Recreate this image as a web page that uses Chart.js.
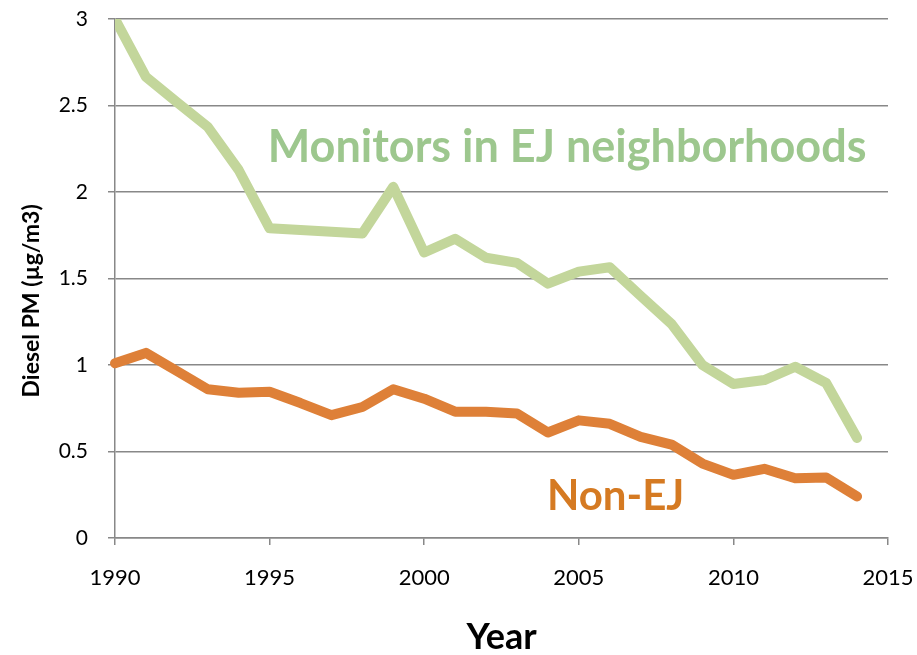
<!DOCTYPE html>
<html>
<head>
<meta charset="utf-8">
<script src="https://cdn.jsdelivr.net/npm/chart.js@4/dist/chart.umd.min.js"></script>
<style>
  html, body { margin: 0; padding: 0; background: #fff; }
  #wrap { width: 917px; height: 655px; }
</style>
</head>
<body>
<div id="wrap"><canvas id="pmChart" width="917" height="655"></canvas></div>
<script>
// Diesel PM trend, EJ vs non-EJ monitors
const years = [1990, 1991, 1992, 1993, 1994, 1995, 1996, 1997, 1998, 1999, 2000, 2001,
  2002, 2003, 2004, 2005, 2006, 2007, 2008, 2009, 2010, 2011, 2012, 2013, 2014];
const ejValues = [3.0, 2.665, 2.52, 2.376, 2.127, 1.79, 1.78, 1.77, 1.76, 2.03, 1.65, 1.73,
  1.62, 1.59, 1.47, 1.54, 1.565, 1.40, 1.237, 1.0, 0.89, 0.913, 0.99, 0.896, 0.578];
const nonEjValues = [1.01, 1.07, 0.965, 0.86, 0.84, 0.845, 0.78, 0.71, 0.757, 0.86, 0.805, 0.73,
  0.73, 0.72, 0.61, 0.68, 0.66, 0.585, 0.54, 0.43, 0.365, 0.40, 0.345, 0.35, 0.24];
const seriesNames = ['Monitors in EJ neighborhoods', 'Non-EJ'];
const yTicks = [0, 0.5, 1, 1.5, 2, 2.5, 3];
const xTicks = [1990, 1995, 2000, 2005, 2010, 2015];

const canvas = document.getElementById('pmChart');
const ctx = canvas.getContext('2d');
const fontFamily = "Lato, 'Open Sans', sans-serif";

// labels sit next to the lines, like the original
const seriesLabels = {
  id: 'seriesLabels',
  afterDatasetsDraw(chart) {
    const c = chart.ctx;
    const xs = chart.scales.x;
    const ys = chart.scales.y;
    c.save();
    c.textBaseline = 'alphabetic';
    c.textAlign = 'left';
    c.font = 'bold 45px ' + fontFamily;
    c.fillStyle = '#9dc78e';
    c.fillText(seriesNames[0], xs.getPixelForValue(1994.94), ys.getPixelForValue(2.175));
    c.font = 'bold 42px ' + fontFamily;
    c.fillStyle = '#d57a22';
    c.fillText(seriesNames[1], xs.getPixelForValue(2003.97), ys.getPixelForValue(0.162));
    c.restore();
  }
};

new Chart(ctx, {
  type: 'line',
  data: {
    datasets: [
      {
        label: seriesNames[0],
        data: years.map((yr, i) => ({ x: yr, y: ejValues[i] })),
        borderColor: '#c3d69b',
        borderWidth: 10,
        borderCapStyle: 'round',
        borderJoinStyle: 'round',
        pointRadius: 0,
        tension: 0
      },
      {
        label: seriesNames[1],
        data: years.map((yr, i) => ({ x: yr, y: nonEjValues[i] })),
        borderColor: '#de8038',
        borderWidth: 10,
        borderCapStyle: 'round',
        borderJoinStyle: 'round',
        pointRadius: 0,
        tension: 0,
        clip: false
      }
    ]
  },
  options: {
    responsive: false,
    animation: false,
    layout: { padding: { top: 19, right: 29, left: 0, bottom: 0 } },
    plugins: {
      legend: { display: false },
      tooltip: { enabled: false }
    },
    scales: {
      x: {
        type: 'linear',
        min: 1990,
        max: 2015,
        afterBuildTicks: (axis) => { axis.ticks = xTicks.map(v => ({ value: v })); },
        afterFit: (axis) => {
          axis.height = 117;
          axis.paddingLeft = 0;
          axis.paddingRight = 0;
        },
        ticks: {
          color: '#000',
          font: { family: fontFamily, size: 22 },
          padding: 20,
          maxRotation: 0,
          callback: (v) => String(v)
        },
        grid: {
          drawOnChartArea: false,
          drawTicks: true,
          tickLength: 7,
          color: '#888',
          lineWidth: 1.5
        },
        border: { color: '#888', width: 1.5 },
        title: {
          display: true,
          text: 'Year',
          color: '#000',
          font: { family: fontFamily, size: 36, weight: 'bold', lineHeight: 1.0 },
          padding: { top: 0, bottom: 0 }
        }
      },
      y: {
        min: 0,
        max: 3,
        afterBuildTicks: (axis) => { axis.ticks = yTicks.map(v => ({ value: v })); },
        afterFit: (axis) => {
          axis.width = 115;
          axis.paddingTop = 0;
          axis.paddingBottom = 0;
        },
        ticks: {
          color: '#000',
          font: { family: fontFamily, size: 21 },
          padding: 20,
          callback: (v) => String(v)
        },
        grid: {
          color: '#888',
          lineWidth: 1.5,
          drawTicks: true,
          tickLength: 7
        },
        border: { color: '#888', width: 1.5 },
        title: {
          display: true,
          // trailing spaces nudge the centred title a bit lower, as in the original
          text: 'Diesel PM (µg/m3)        ',
          color: '#000',
          font: { family: fontFamily, size: 23, weight: 'bold' },
          padding: { top: 18, bottom: 0 }
        }
      }
    }
  },
  plugins: [seriesLabels]
});
</script>
</body>
</html>
